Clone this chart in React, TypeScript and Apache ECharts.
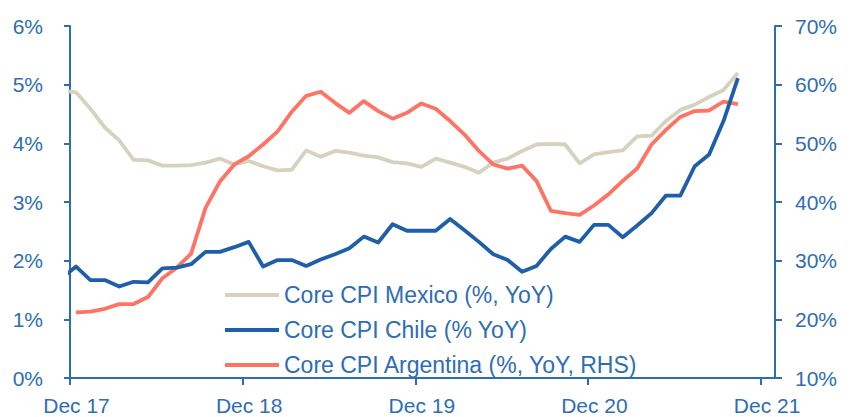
import React, { useEffect, useRef } from "react";
import * as echarts from "echarts";

// Monthly observations from Nov 17 to Oct 21 (48 months)
const START_YEAR = 2017;
const START_MONTH = 10; // November (0-based)
const MONTH_NAMES = ["Jan", "Feb", "Mar", "Apr", "May", "Jun", "Jul", "Aug", "Sep", "Oct", "Nov", "Dec"];

const mexicoCore = [
  4.90, 4.87,
  4.59, 4.27, 4.05, 3.72, 3.71, 3.62, 3.62, 3.63, 3.67, 3.74, 3.64, 3.70,
  3.61, 3.54, 3.55, 3.88, 3.77, 3.87, 3.84, 3.79, 3.76, 3.68, 3.66, 3.60,
  3.74, 3.67, 3.60, 3.50, 3.67, 3.74, 3.87, 3.98, 3.99, 3.98, 3.66, 3.81,
  3.85, 3.88, 4.12, 4.13, 4.38, 4.57, 4.66, 4.79, 4.91, 5.20,
];

const chileCore = [
  1.70, 1.90,
  1.67, 1.67, 1.56, 1.64, 1.63, 1.87, 1.88, 1.94, 2.15, 2.15, 2.23, 2.32,
  1.90, 2.01, 2.01, 1.91, 2.02, 2.11, 2.21, 2.41, 2.31, 2.62, 2.51, 2.51,
  2.51, 2.71, 2.52, 2.32, 2.11, 2.01, 1.81, 1.91, 2.20, 2.41, 2.32, 2.61,
  2.61, 2.40, 2.60, 2.81, 3.11, 3.11, 3.61, 3.81, 4.38, 5.11,
];

const argentinaCore = [
  null, 21.2,
  21.3, 21.8, 22.6, 22.6, 23.8, 27.0, 28.8, 31.2, 39.0, 43.5, 46.4, 47.8,
  49.8, 52.0, 55.4, 58.1, 58.8, 56.9, 55.2, 57.2, 55.5, 54.2, 55.2, 56.8,
  55.9, 53.8, 51.5, 48.7, 46.4, 45.7, 46.2, 43.6, 38.5, 38.1, 37.8, 39.4,
  41.3, 43.6, 45.7, 49.8, 52.3, 54.5, 55.5, 55.6, 57.1, 56.7,
];

const xTickLabels = ["Dec 17", "Dec 18", "Dec 19", "Dec 20", "Dec 21"];
const xTickValues = [0, 12, 24, 36, 48];

const seriesNames = [
  "Core CPI Mexico (%, YoY)",
  "Core CPI Chile (% YoY)",
  "Core CPI Argentina (%, YoY, RHS)",
];

// Observation dates fall mid-month; axis ticks sit at the start of December.
const DAY_FRACTION = 0.42;

const months = mexicoCore.map((_, i) => {
  const m = START_MONTH + i;
  return `${MONTH_NAMES[m % 12]} ${String((START_YEAR + Math.floor(m / 12)) % 100)}`;
});
// months since the start of Dec 17
const xPos = months.map((_, i) => i - 1 + DAY_FRACTION);

const BLUE_TEXT = "#2E6DB4";
const GREY = "#D6D2BF";
const CHILE = "#1F5FA9";
const ARG = "#FF7365";
const FONT = "'Liberation Sans', Arial, sans-serif";

export default function App() {
  const ref = useRef<HTMLDivElement>(null);
  useEffect(() => {
    if (!ref.current) return;
    const chart = echarts.init(ref.current, undefined, { renderer: "svg" });
    const pair = (arr: (number | null)[]) => arr.map((v, i) => [xPos[i], v]);
    chart.setOption({
      animation: false,
      backgroundColor: "#ffffff",
      textStyle: { fontFamily: FONT },
      grid: { left: 70, right: 80, top: 26, bottom: 39, containLabel: false },
      legend: {
        orient: "vertical",
        left: 220,
        top: 278,
        itemWidth: 54,
        itemHeight: 4,
        itemGap: 11,
        icon: "rect",
        data: seriesNames,
        textStyle: { color: BLUE_TEXT, fontSize: 23, fontFamily: FONT, lineHeight: 24, padding: [0, 0, 0, 0] },
        selectedMode: false,
      },
      xAxis: {
        type: "value",
        min: 0,
        max: 49,
        interval: 12,
        splitLine: { show: false },
        axisLine: { show: true, lineStyle: { color: BLUE_TEXT, width: 2 } },
        axisTick: { show: true, length: 7, lineStyle: { color: BLUE_TEXT, width: 2 }, customValues: xTickValues },
        axisLabel: {
          color: BLUE_TEXT,
          fontSize: 21,
          fontFamily: FONT,
          margin: 17,
          padding: [0, 0, 0, 13],
          customValues: xTickValues,
          formatter: (v: number) => xTickLabels[Math.round(v / 12)] ?? "",
        },
      },
      yAxis: [
        {
          type: "value",
          min: 0,
          max: 6,
          interval: 1,
          position: "left",
          splitLine: { show: false },
          axisLine: { show: true, lineStyle: { color: BLUE_TEXT, width: 2 } },
          axisTick: { show: true, length: 6, lineStyle: { color: BLUE_TEXT, width: 2 } },
          axisLabel: { color: BLUE_TEXT, fontSize: 21, fontFamily: FONT, margin: 27, formatter: "{value}%" },
        },
        {
          type: "value",
          min: 10,
          max: 70,
          interval: 10,
          position: "right",
          splitLine: { show: false },
          axisLine: { show: true, lineStyle: { color: BLUE_TEXT, width: 2 } },
          axisTick: { show: true, length: 7, lineStyle: { color: BLUE_TEXT, width: 2 } },
          axisLabel: { color: BLUE_TEXT, fontSize: 21, fontFamily: FONT, margin: 20, formatter: "{value}%" },
        },
      ],
      series: [
        {
          name: seriesNames[0],
          type: "line",
          yAxisIndex: 0,
          data: pair(mexicoCore),
          showSymbol: false,
          clip: true,
          color: GREY,
          lineStyle: { color: GREY, width: 3.8, join: "round" },
          z: 2,
        },
        {
          name: seriesNames[2],
          type: "line",
          yAxisIndex: 1,
          data: pair(argentinaCore),
          showSymbol: false,
          clip: true,
          color: ARG,
          lineStyle: { color: ARG, width: 3.8, join: "round" },
          z: 3,
        },
        {
          name: seriesNames[1],
          type: "line",
          yAxisIndex: 0,
          data: pair(chileCore),
          showSymbol: false,
          clip: true,
          color: CHILE,
          lineStyle: { color: CHILE, width: 3.8, join: "round" },
          z: 4,
        },
      ],
    });
    return () => chart.dispose();
  }, []);
  return (
    <div
      ref={ref}
      style={{ position: "fixed", left: 0, top: 0, width: 855, height: 417, background: "#fff" }}
    />
  );
}
